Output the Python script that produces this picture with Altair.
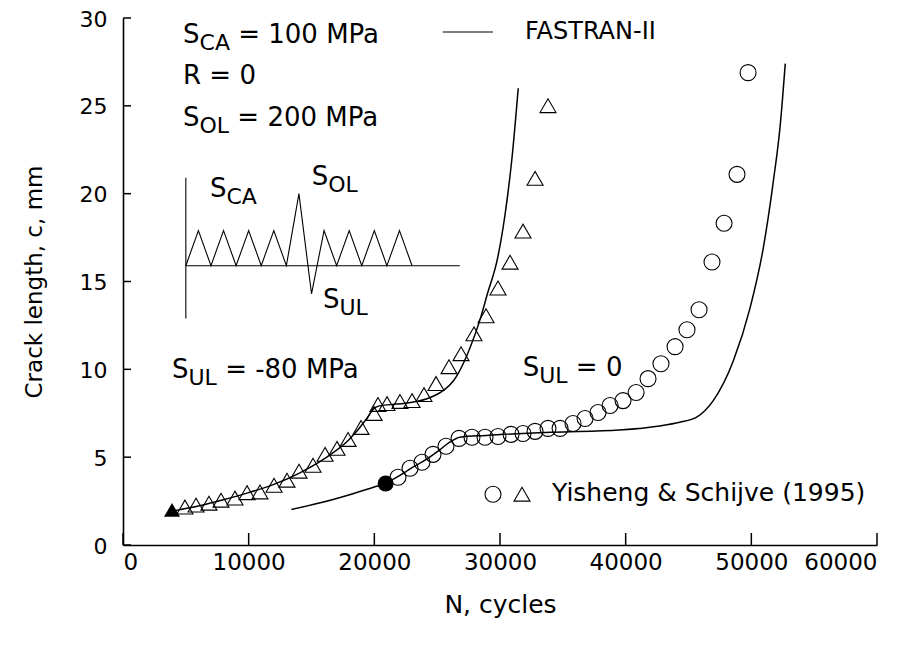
import altair as alt
import pandas as pd

# ---------------- data ----------------
# Test data, S_UL = -80 MPa (open triangles)
tri_N = [4930, 5810, 6840, 7800, 8910, 9870, 10900, 12020, 13050, 14010,
         15120, 16080, 17030, 17910, 18940, 19980, 20290, 21010, 22040, 23000,
         23950, 24910, 25940, 26900, 27930, 28890, 29840, 30800, 31830, 32790, 33820]
tri_c = [2.16, 2.27, 2.38, 2.55, 2.67, 2.98, 3.02, 3.40, 3.69, 4.20,
         4.54, 5.16, 5.50, 6.01, 6.69, 7.49, 8.00, 8.05, 8.17, 8.22,
         8.56, 9.19, 10.15, 10.89, 12.02, 13.05, 14.63, 16.10, 17.87, 20.87, 25.01]
# Test data, S_UL = 0 (open circles)
circ_N = [21880, 22840, 23790, 24670, 25700, 26740, 27770, 28810, 29840, 30880,
          31830, 32790, 33820, 34780, 35810, 36770, 37800, 38760, 39790, 40830,
          41780, 42810, 43930, 44880, 45840, 46870, 47830, 48860, 49740]
circ_c = [3.86, 4.37, 4.71, 5.16, 5.62, 6.07, 6.13, 6.13, 6.18, 6.30,
          6.35, 6.47, 6.64, 6.64, 6.92, 7.20, 7.54, 7.94, 8.22, 8.68,
          9.47, 10.32, 11.29, 12.25, 13.39, 16.11, 18.32, 21.10, 26.89]
# Starting points (filled)
start_tri_N, start_tri_c = [3900], [2.0]
start_circ_N, start_circ_c = [20900], [3.5]

# FASTRAN-II predictions
f1_N = [3900, 6000, 8000, 10000, 12000, 14000, 16000, 18000, 19400, 19900, 20400,
        21800, 23000, 24400, 25500, 26300, 26700, 27600, 28400, 29000, 29800,
        30400, 30950, 31450]
f1_c = [1.93, 2.22, 2.58, 2.98, 3.45, 4.08, 4.90, 6.00, 7.20, 7.72, 7.92,
        8.02, 8.12, 8.38, 8.80, 9.35, 9.80, 11.20, 12.80, 14.30, 16.30,
        18.80, 22.00, 26.00]
f2_N = [13400, 15700, 18300, 20000, 20900, 22000, 23000, 24200, 25200, 26000,
        26800, 28900, 34200, 39500, 42700, 44300, 45650, 46970, 48570, 49900,
        50950, 51750, 52300, 52700]
f2_c = [2.02, 2.40, 2.92, 3.30, 3.52, 3.95, 4.40, 4.90, 5.42, 5.85,
        6.14, 6.24, 6.42, 6.55, 6.78, 6.99, 7.28, 8.22, 10.49, 13.50,
        16.90, 20.70, 23.90, 27.40]

# Load-sequence schematic (inset), in chart units
seq_N = [5000, 6000, 7000, 8000, 9000, 10000, 11000, 12000, 13000, 14000, 15000,
         16000, 17000, 18000, 19000, 20000, 21000, 22000, 23000]
seq_c = [15.9, 17.9, 15.9, 17.9, 15.9, 17.9, 15.9, 17.9, 15.9, 20.0, 14.3,
         17.9, 15.9, 17.9, 15.9, 17.9, 15.9, 17.9, 15.9]
base_N = [5000, 26800]
base_c = [15.9, 15.9]
vert_N = [5000, 5000]
vert_c = [12.9, 20.9]

x_ticks = [0, 10000, 20000, 30000, 40000, 50000, 60000]
y_ticks = [0, 5, 10, 15, 20, 25, 30]

# ---------------- layout helpers ----------------
W, H = 754, 527
XMAX, YMAX = 60000, 30
PX_N = XMAX / W      # cycles per pixel
PX_C = YMAX / H      # mm per pixel
FONT = "DejaVu Sans"
MAIN, SUB = 26, 22

CW = {'S': .635, 'C': .698, 'A': .684, 'O': .787, 'L': .557, 'U': .732, 'R': .695,
      'M': .863, 'P': .603, 'a': .613, ' ': .318, '=': .838, '-': .361}


def tw(s, size):
    return sum(CW.get(ch, .636) for ch in s) * size


# annotations: (left N, centre c, main, subscript, rest)
ann = [
    (4775, 29.06, "S", "CA", "= 100 MPa"),
    (4775, 26.70, "R = 0", "", ""),
    (4775, 24.33, "S", "OL", "= 200 MPa"),
    (6923, 20.27, "S", "CA", ""),
    (15017, 20.94, "S", "OL", ""),
    (15915, 13.95, "S", "UL", ""),
    (3900, 9.98, "S", "UL", "= -80 MPa"),
    (31807, 10.09, "S", "UL", "= 0"),
]
rows = []
for n0, c0, a, b, r in ann:
    x = n0
    rows.append(dict(N=x, c=c0, t=a, s=MAIN))
    x += tw(a, MAIN) * PX_N
    if b:
        rows.append(dict(N=x, c=c0 - 8 * PX_C, t=b, s=SUB))
        x += tw(b, SUB) * PX_N
    if r:
        x += tw(" ", MAIN) * PX_N
        rows.append(dict(N=x, c=c0, t=r, s=MAIN))
rows.append(dict(N=31988, c=29.2, t="FASTRAN-II", s=24))
rows.append(dict(N=34139, c=2.95, t="Yisheng & Schijve (1995)", s=25))
txt_df = pd.DataFrame(rows)

xs = alt.Scale(domain=[0, XMAX], nice=False, zero=False)
ys = alt.Scale(domain=[0, YMAX], nice=False, zero=False)
X = lambda f: alt.X(f, type="quantitative", scale=xs)
Y = lambda f: alt.Y(f, type="quantitative", scale=ys)

# ---------------- layers ----------------
axes_base = alt.Chart(pd.DataFrame({"N": [0], "c": [0]})).mark_point(opacity=0).encode(
    x=alt.X("N:Q", scale=xs, title="N, cycles",
            axis=alt.Axis(values=x_ticks, format="d", ticks=False, tickSize=0, grid=False,
                          labelPadding=6, titlePadding=18, titleFontSize=25)),
    y=alt.Y("c:Q", scale=ys, title="Crack length, c, mm",
            axis=alt.Axis(values=y_ticks, ticks=False, tickSize=0, grid=False,
                          labelPadding=16, labelOffset=1, labelFontSize=22,
                          titlePadding=33)),
)

xt = alt.Chart(pd.DataFrame({"N": x_ticks})).mark_rule(color="black", strokeWidth=1.5).encode(
    x=X("N"), y=alt.value(H), y2=alt.value(H - 12))
yt = alt.Chart(pd.DataFrame({"c": y_ticks})).mark_rule(color="black", strokeWidth=1.5).encode(
    y=Y("c"), x=alt.value(0), x2=alt.value(8))


def line(Ns, cs, sw, interp="linear"):
    d = pd.DataFrame({"N": Ns, "c": cs, "o": range(len(Ns))})
    return alt.Chart(d).mark_line(color="black", strokeWidth=sw, interpolate=interp).encode(
        x=X("N"), y=Y("c"), order="o:Q")


f1 = line(f1_N, f1_c, 1.5, "monotone")
f2 = line(f2_N, f2_c, 1.5, "monotone")
seq = line(seq_N, seq_c, 1.1)
base = line(base_N, base_c, 1.1)
vert = line(vert_N, vert_c, 1.1)
leg_line = line([25446, 29439], [29.2, 29.2], 1.1)


def pts(Ns, cs, shape, filled):
    d = pd.DataFrame({"N": Ns, "c": cs})
    return alt.Chart(d).mark_point(shape=shape, size=256, filled=filled,
                                   color="black", strokeWidth=1.1,
                                   opacity=1).encode(x=X("N"), y=Y("c"))


tri = pts(tri_N, tri_c, "triangle-up", False)
circ = pts(circ_N, circ_c, "circle", False)
tri0 = pts(start_tri_N, start_tri_c, "triangle-up", True)
circ0 = pts(start_circ_N, start_circ_c, "circle", True)
leg_c = pts([29443], [2.89], "circle", False)
leg_t = pts([31751], [2.89], "triangle-up", False)

texts = alt.Chart(txt_df).mark_text(align="left", baseline="middle", font=FONT,
                                    color="black").encode(
    x=X("N"), y=Y("c"), text="t:N", size=alt.Size("s:Q", scale=None))

chart = alt.layer(axes_base, xt, yt, f1, f2, seq, base, vert, leg_line,
                  tri, circ, tri0, circ0, leg_c, leg_t, texts).properties(
    width=W, height=H,
    autosize=alt.AutoSizeParams(type="none"),
    padding={"left": 115, "top": 10, "right": 31, "bottom": 88},
).configure_view(stroke=None).configure_axis(
    domainColor="black", domainWidth=1.6,
    labelFont=FONT, labelFontSize=23, labelColor="black",
    titleFont=FONT, titleFontSize=23, titleColor="black", titleFontWeight="normal",
)

chart.save("out.html", embed_options={"renderer": "svg", "actions": False})
